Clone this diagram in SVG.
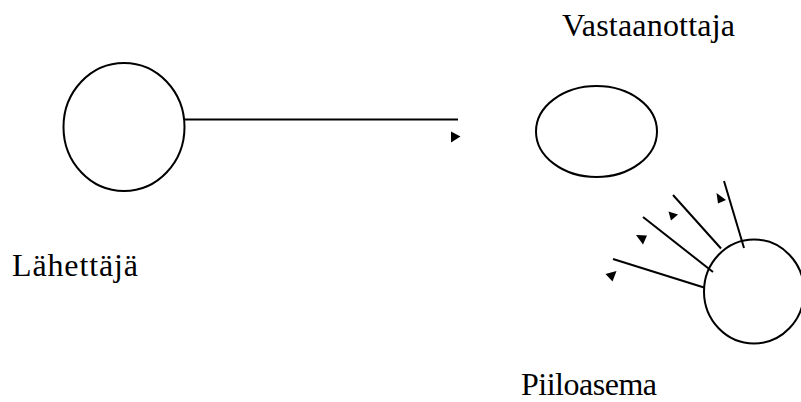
<svg xmlns="http://www.w3.org/2000/svg" width="801" height="402" viewBox="0 0 801 402">
<style>
.node{fill:none;stroke:#000;stroke-width:2}
.edge{stroke:#000;stroke-width:2;fill:none}
.head{fill:#000;stroke:none}
</style>
<rect width="801" height="402" fill="#fff"/>
<g id="lahettaja">
<ellipse class="node" cx="124" cy="127" rx="60.5" ry="64"/>
<text x="12" y="276" font-family="Liberation Serif, Times New Roman, serif" font-size="32" fill="#000" textLength="126" lengthAdjust="spacing">Lähettäjä</text>
</g>
<g id="vastaanottaja">
<ellipse class="node" cx="596.5" cy="131.5" rx="60.5" ry="45.5"/>
<text x="562" y="36" font-family="Liberation Serif, Times New Roman, serif" font-size="32" fill="#000" textLength="173" lengthAdjust="spacing">Vastaanottaja</text>
</g>
<g id="piiloasema">
<ellipse class="node" cx="754" cy="291.5" rx="50" ry="52"/>
<text x="521" y="395" font-family="Liberation Serif, Times New Roman, serif" font-size="32" fill="#000" textLength="136" lengthAdjust="spacing">Piiloasema</text>
</g>
<g id="connectors">
<line class="edge" x1="184.5" y1="119.5" x2="458" y2="119.5"/>
<polygon class="head" points="451,131.5 460.5,136.5 451,142.5"/>
<line class="edge" x1="724" y1="181" x2="744" y2="248"/>
<polygon class="head" points="716.5,193 726,200 718,203.5"/>
<line class="edge" x1="673" y1="195" x2="721" y2="248.5"/>
<polygon class="head" points="668.5,211.5 678,214.5 671,220.5"/>
<line class="edge" x1="643" y1="217" x2="713" y2="272"/>
<polygon class="head" points="636,235 647,235.5 643,244.5"/>
<line class="edge" x1="613" y1="259" x2="704" y2="287.5"/>
<polygon class="head" points="605.5,274 616.5,271 612.5,281.5"/>
</g>
</svg>
